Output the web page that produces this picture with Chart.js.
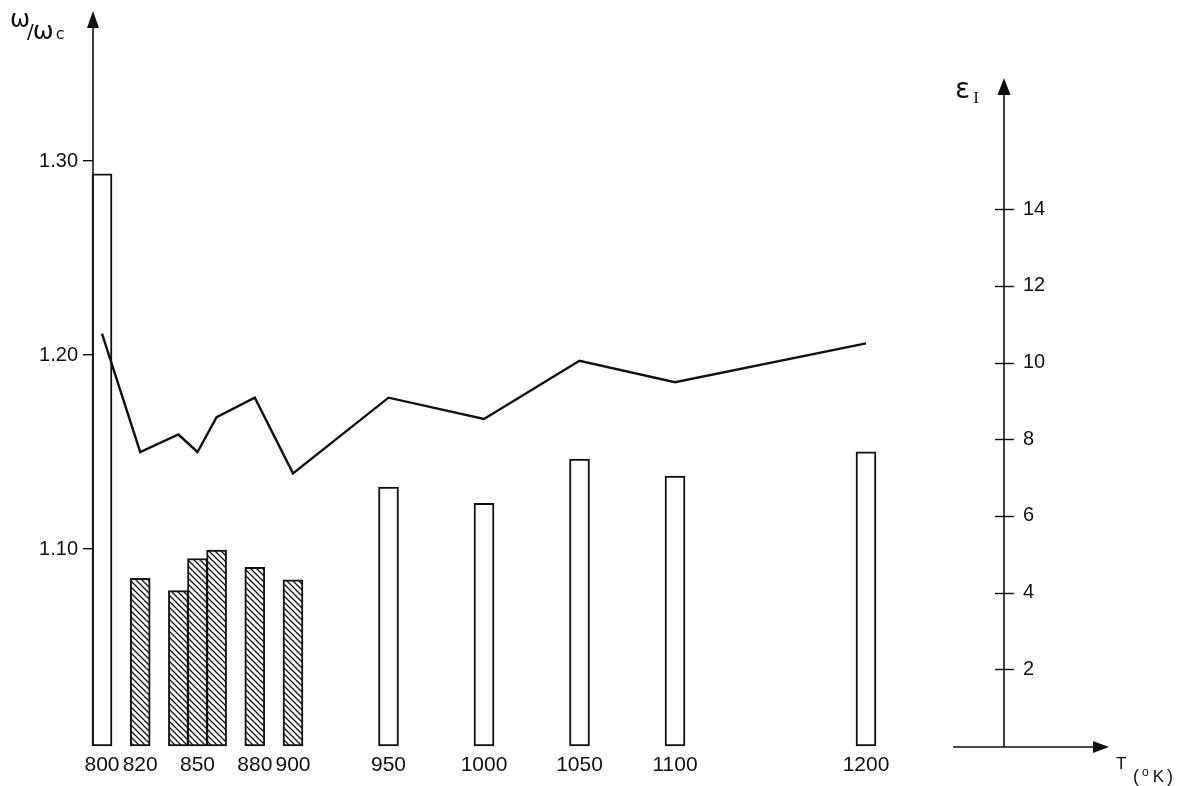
<!DOCTYPE html>
<html><head><meta charset="utf-8">
<script src="https://cdn.jsdelivr.net/npm/chart.js@4/dist/chart.umd.min.js"></script>
<style>html,body{margin:0;padding:0;background:#fff}#wrap{width:1188px;height:786px;position:relative}</style>
</head><body><div id="wrap"><canvas id="c" width="1188" height="786"></canvas></div>
<script>
// ---- data ----
const temperatures = [800, 820, 840, 850, 860, 880, 900, 950, 1000, 1050, 1100, 1200];
const freqRatio    = [1.211, 1.150, 1.159, 1.150, 1.168, 1.178, 1.139, 1.178, 1.167, 1.197, 1.186, 1.206];
const epsilonI     = [14.92, 4.37, 4.05, 4.89, 5.11, 4.66, 4.33, 6.75, 6.33, 7.48, 7.04, 7.67];
const barStyle     = ['open','hatched','hatched','hatched','hatched','hatched','hatched','open','open','open','open','open'];
const xTickLabels  = [800, 820, 850, 880, 900, 950, 1000, 1050, 1100, 1200];
const leftTicks    = [1.10, 1.20, 1.30];
const rightTicks   = [2, 4, 6, 8, 10, 12, 14];

const INK = '#111';
Chart.defaults.color = INK;
Chart.defaults.font.family = '"Liberation Sans", Arial, sans-serif';

// hatch pattern
const pc = document.createElement('canvas'); pc.width = 6; pc.height = 6;
const g = pc.getContext('2d');
g.fillStyle = '#fff'; g.fillRect(0, 0, 6, 6);
g.strokeStyle = INK; g.lineWidth = 1.3; g.beginPath();
g.moveTo(-1, -1); g.lineTo(7, 7);
g.moveTo(-1, 5); g.lineTo(1, 7);
g.moveTo(5, -1); g.lineTo(7, 1);
g.stroke();
const canvas = document.getElementById('c');
const hatch = canvas.getContext('2d').createPattern(pc, 'repeat');

function seq(ctx, parts, x) {
  parts.forEach(p => {
    ctx.font = p.font;
    ctx.fillText(p.t, x + (p.dx || 0), p.y);
    x += ctx.measureText(p.t).width + (p.dx || 0) + (p.gap || 0);
  });
}

const decor = {
  id: 'decor',
  afterDraw(chart) {
    const ctx = chart.ctx, a = chart.chartArea, y2 = chart.scales.y2;
    ctx.save();
    ctx.strokeStyle = INK; ctx.fillStyle = INK; ctx.lineWidth = 1.6;
    // left axis with arrow
    const lx = a.left;
    ctx.beginPath(); ctx.moveTo(lx, a.bottom); ctx.lineTo(lx, 26); ctx.stroke();
    ctx.beginPath(); ctx.moveTo(lx, 11); ctx.lineTo(lx - 6, 28); ctx.lineTo(lx + 6, 28); ctx.closePath(); ctx.fill();
    // right axis with arrow
    const rx = a.right, by = a.bottom + 1;
    ctx.beginPath(); ctx.moveTo(rx, by); ctx.lineTo(rx, 92); ctx.stroke();
    ctx.beginPath(); ctx.moveTo(rx, 78); ctx.lineTo(rx - 6.5, 95); ctx.lineTo(rx + 6.5, 95); ctx.closePath(); ctx.fill();
    // right tick crosses
    ctx.lineWidth = 1.4;
    rightTicks.forEach(v => {
      const py = Math.round(y2.getPixelForValue(v)) + 0.5;
      ctx.beginPath(); ctx.moveTo(rx - 9, py); ctx.lineTo(rx + 10, py); ctx.stroke();
    });
    // horizontal T axis
    ctx.lineWidth = 1.6;
    ctx.beginPath(); ctx.moveTo(953, by); ctx.lineTo(1096, by); ctx.stroke();
    ctx.beginPath(); ctx.moveTo(1109, by); ctx.lineTo(1093, by - 6); ctx.lineTo(1093, by + 6); ctx.closePath(); ctx.fill();
    // titles
    ctx.textBaseline = 'alphabetic'; ctx.textAlign = 'left';
    seq(ctx, [
      { t: 'ω', font: '24px "DejaVu Sans"', y: 27 },
      { t: '/', font: '20px "DejaVu Sans"', y: 38, dx: -3 },
      { t: 'ω', font: '25px "DejaVu Sans"', y: 39, dx: -1 },
      { t: 'c', font: '16px "DejaVu Sans"', y: 39, dx: 2 }
    ], 10);
    seq(ctx, [
      { t: 'ε', font: '28px "DejaVu Sans"', y: 98 },
      { t: 'I', font: '17px "Liberation Serif"', y: 103, dx: 3 }
    ], 955);
    seq(ctx, [
      { t: 'T', font: '17px "Liberation Sans"', y: 769 }
    ], 1116);
    seq(ctx, [
      { t: '(', font: '18px "Liberation Sans"', y: 782 },
      { t: 'o', font: '12px "Liberation Sans"', y: 776, dx: 3 },
      { t: 'K', font: '17px "Liberation Sans"', y: 782, dx: 4 },
      { t: ')', font: '18px "Liberation Sans"', y: 782, dx: 3 }
    ], 1133);
    ctx.restore();
  }
};

new Chart(canvas, {
  type: 'bar',
  data: {
    datasets: [
      {
        type: 'line',
        data: temperatures.map((t, i) => ({ x: t, y: freqRatio[i] })),
        yAxisID: 'y', xAxisID: 'x',
        borderColor: INK, borderWidth: 2.4, pointRadius: 0, tension: 0,
        fill: false, order: 0, clip: false
      },
      {
        type: 'bar',
        data: temperatures.map((t, i) => ({ x: t, y: epsilonI[i] })),
        yAxisID: 'y2', xAxisID: 'x',
        backgroundColor: barStyle.map(s => s === 'hatched' ? hatch : '#fff'),
        borderColor: INK, borderWidth: 2, borderSkipped: false,
        barThickness: 20, order: 1, clip: false
      }
    ]
  },
  options: {
    responsive: false, animation: false, devicePixelRatio: 1,
    layout: { padding: { top: 12, left: 0, right: 0, bottom: 0 } },
    plugins: { legend: { display: false }, tooltip: { enabled: false } },
    scales: {
      x: {
        type: 'linear', position: 'bottom', offset: false,
        min: 795.29, max: 1272.25,
        afterFit: s => { s.height = 40; s.paddingLeft = 0; s.paddingRight = 0; },
        afterBuildTicks: s => { s.ticks = xTickLabels.map(v => ({ value: v })); },
        ticks: { autoSkip: false, maxRotation: 0, minRotation: 0, padding: 7,
                 font: { size: 21 }, color: INK, callback: v => String(v) },
        grid: { display: false, drawTicks: false }, border: { display: false }
      },
      y: {
        type: 'linear', position: 'left',
        min: 0.99845, max: 1.3768,
        afterFit: s => { s.width = 93; s.paddingTop = 0; s.paddingBottom = 0; },
        afterBuildTicks: s => { s.ticks = leftTicks.map(v => ({ value: v })); },
        ticks: { padding: 5, font: { size: 20 }, color: INK, callback: v => v.toFixed(2) },
        grid: { drawOnChartArea: false, drawTicks: true, tickLength: 10, color: INK, lineWidth: 1.4 },
        border: { display: false }
      },
      y2: {
        type: 'linear', position: 'right',
        min: 0, max: 19.14,
        afterFit: s => { s.width = 184; s.paddingTop = 0; s.paddingBottom = 0; },
        afterBuildTicks: s => { s.ticks = rightTicks.map(v => ({ value: v })); },
        ticks: { padding: 19, font: { size: 20 }, color: INK },
        grid: { drawOnChartArea: false, drawTicks: false },
        border: { display: false }
      }
    }
  },
  plugins: [decor]
});
</script>
</body></html>
